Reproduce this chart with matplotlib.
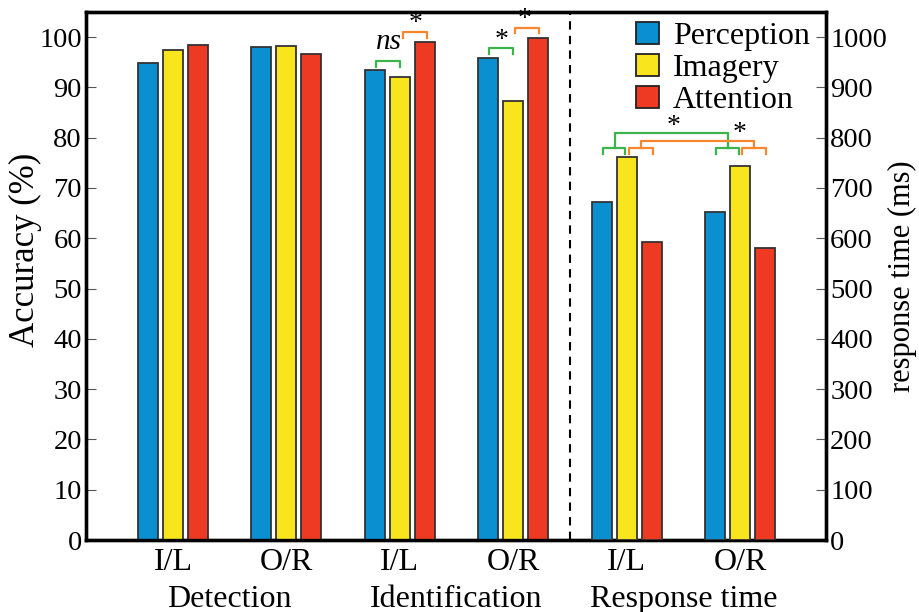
import matplotlib
matplotlib.use('Agg')
import matplotlib.pyplot as plt
from matplotlib.patches import Patch
import numpy as np

plt.rcParams['font.family'] = 'Liberation Serif'

conditions = ['Perception', 'Imagery', 'Attention']
colors = ['#0a8fd0', '#f8e51e', '#ee3a23']
tick_labels = ['I/L', 'O/R', 'I/L', 'O/R', 'I/L', 'O/R']
group_labels = ['Detection', 'Identification', 'Response time']

# accuracy (%) for Detection I/L, O/R and Identification I/L, O/R
perception_acc = [94.8, 98.1, 93.4, 95.9]
imagery_acc = [97.4, 98.2, 92.1, 87.3]
attention_acc = [98.4, 96.6, 99.1, 99.9]

# response time (ms) for I/L, O/R
perception_rt = [672, 653]
imagery_rt = [761, 744]
attention_rt = [592, 580]

fig = plt.figure(figsize=(9.19, 6.12), dpi=100)
ax = fig.add_axes([0.0936, 0.1176, 0.8052, 0.862])
ax2 = ax.twinx()

offsets = [-0.22, 0, 0.22]
width = 0.176
acc = [perception_acc, imagery_acc, attention_acc]
rt = [perception_rt, imagery_rt, attention_rt]
for k in range(3):
    ax.bar(np.arange(4) + offsets[k], acc[k], width, color=colors[k],
           edgecolor='#333333', linewidth=1.3, zorder=3)
    ax2.bar(np.arange(4, 6) + offsets[k], rt[k], width, color=colors[k],
            edgecolor='#333333', linewidth=1.3, zorder=3)

ax.set_xlim(-0.767, 5.758)
ax.set_ylim(0, 104.9)
ax2.set_ylim(0, 1049)
ax.set_yticks(range(0, 101, 10))
ax2.set_yticks(range(0, 1001, 100))
ax.set_xticks(range(6))
ax.set_xticklabels(tick_labels)
ax.tick_params(axis='x', length=0, labelsize=23, pad=6)
ax.tick_params(axis='y', direction='in', length=7, width=0.8, labelsize=20.5, pad=3, color='#555555')
ax2.tick_params(axis='y', direction='in', length=7, width=0.8, labelsize=20.5, pad=3, color='#555555')
for a in (ax, ax2):
    for s in a.spines.values():
        s.set_linewidth(2.4)
ax.set_ylabel('Accuracy (%)', fontsize=25)
ax.yaxis.set_label_coords(-0.06, 0.55)
ax2.set_ylabel('response time (ms)', fontsize=22)
ax2.yaxis.set_label_coords(1.084, 0.5)

for i, g in enumerate(group_labels):
    ax.text(2 * i + 0.5, -0.112, g, transform=ax.get_xaxis_transform(),
            ha='center', va='center', fontsize=23)

ax.axvline(3.5, color='black', linestyle=(0, (4, 3)), linewidth=1.5)

green = '#3bb54a'
orange = '#f7862f'


def bracket(a, x1, x2, y, h, color):
    a.plot([x1, x1, x2, x2], [y - h, y, y, y - h], color=color, linewidth=1.6, zorder=4)


# identification brackets
bracket(ax, 1.79, 2.0, 95.3, 1.2, green)
bracket(ax, 2.03, 2.24, 101.1, 1.3, orange)
bracket(ax, 2.79, 3.0, 97.8, 1.2, green)
bracket(ax, 3.02, 3.23, 101.9, 1.1, orange)
ax.text(1.90, 96.4, 'ns', style='italic', fontsize=21, ha='center', va='bottom')
ax.text(2.14, 100.2, '*', fontsize=20, ha='center', va='bottom')
ax.text(2.90, 96.9, '*', fontsize=20, ha='center', va='bottom')
ax.text(3.10, 101.0, '*', fontsize=20, ha='center', va='bottom')

# response time brackets
for c in (4, 5):
    bracket(ax2, c - 0.21, c - 0.01, 780, 13, green)
    bracket(ax2, c + 0.02, c + 0.23, 780, 13, orange)
bracket(ax2, 3.895, 4.895, 809, 29, green)
bracket(ax2, 4.125, 5.125, 794, 14, orange)
ax2.text(4.41, 797, '*', fontsize=20, ha='center', va='bottom')
ax2.text(5.0, 783, '*', fontsize=20, ha='center', va='bottom')

handles = [Patch(facecolor=colors[k], edgecolor='#222222', linewidth=1.3) for k in range(3)]
ax.legend(handles, conditions, loc='upper right', bbox_to_anchor=(1.0, 1.012),
          frameon=False, fontsize=23, handlelength=0.7, handleheight=0.7,
          handletextpad=0.45, labelspacing=0.08, borderaxespad=0.1)

fig.savefig('out.png', dpi=100)
